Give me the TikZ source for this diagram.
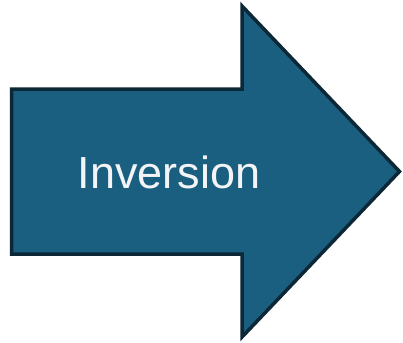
\documentclass[tikz,border=0pt]{standalone}
\usepackage{fontspec}
\setmainfont{Liberation Sans}
\definecolor{arrowfill}{HTML}{1A5F80}
\definecolor{arrowline}{HTML}{0C2736}
\definecolor{labeltext}{HTML}{F2F4F6}
\tikzset{blockarrow/.style={fill=arrowfill, draw=arrowline, line width=3.5pt, line join=miter},
  arrowlabel/.style={text=labeltext, font=\fontsize{45}{45}\selectfont, inner sep=0pt, anchor=base}}
\begin{document}
\begin{tikzpicture}[x=1pt,y=-1pt]
\useasboundingbox (0,0) rectangle (403,342);
\draw[blockarrow] (11.5,89) -- (242,89) -- (242,6) -- (399.5,171.5) -- (242,337) -- (242,254) -- (11.5,254) -- cycle;
\node[arrowlabel] (lbl) at (169,188.5) {Inversion};
\end{tikzpicture}
\end{document}
